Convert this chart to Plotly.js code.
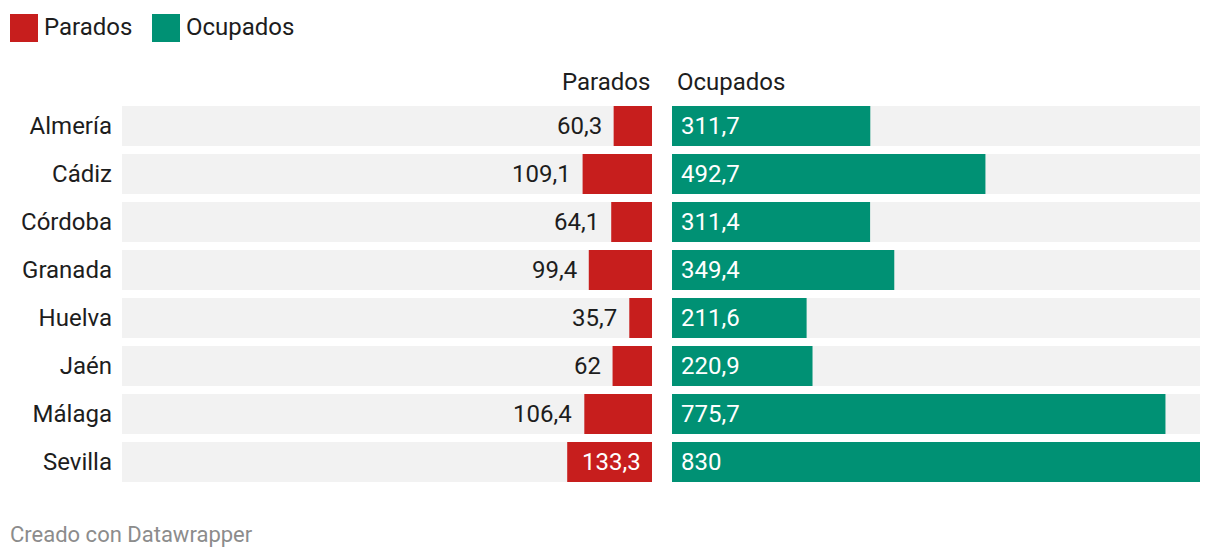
<!DOCTYPE html>
<html>
<head>
<meta charset="utf-8">
<script src="https://cdn.plot.ly/plotly-3.0.1.min.js"></script>
<style>
html,body{margin:0;padding:0;background:#fff;}
#chart{width:1220px;height:560px;}
</style>
</head>
<body>
<div id="chart"></div>
<script>
const categories = ["Almería", "Cádiz", "Córdoba", "Granada", "Huelva", "Jaén", "Málaga", "Sevilla"];
const parados = [60.3, 109.1, 64.1, 99.4, 35.7, 62, 106.4, 133.3];
const ocupados = [311.7, 492.7, 311.4, 349.4, 211.6, 220.9, 775.7, 830];
const seriesNames = ["Parados", "Ocupados"];
const colors = {parados: "#c71e1d", ocupados: "#009174", track: "#f2f2f2"};

const W = 1220, H = 560;
const leftDom = [122 / W, 652 / W];
const rightDom = [672 / W, 1200 / W];
const yDom = [74 / H, 458 / H];
const rightMax = Math.max(...ocupados);
const leftMax = rightMax * (leftDom[1] - leftDom[0]) / (rightDom[1] - rightDom[0]);

const fmt = v => String(v).replace('.', ',');
const FONT = "Roboto, 'Noto Sans', sans-serif";
const FS = 24;
const textColor = "#1d1d1d";

// approximate rendered label width (Roboto digits ~0.56em, comma ~0.2em)
const labelWidth = s => {
  let w = 0;
  for (const c of s) w += (c === ',' ? 0.2 : 0.56) * FS;
  return w;
};

const traces = [
  {type: 'bar', orientation: 'h', y: categories, x: categories.map(() => leftMax),
   xaxis: 'x', yaxis: 'y', marker: {color: colors.track}, hoverinfo: 'skip', showlegend: false},
  {type: 'bar', orientation: 'h', y: categories, x: categories.map(() => rightMax),
   xaxis: 'x2', yaxis: 'y', marker: {color: colors.track}, hoverinfo: 'skip', showlegend: false},
  {type: 'bar', orientation: 'h', name: seriesNames[0], y: categories, x: parados,
   xaxis: 'x', yaxis: 'y', marker: {color: colors.parados}, showlegend: false},
  {type: 'bar', orientation: 'h', name: seriesNames[1], y: categories, x: ocupados,
   xaxis: 'x2', yaxis: 'y', marker: {color: colors.ocupados}, showlegend: false}
];

const annotations = [];
// label goes inside the bar only when the bar is wide enough to hold it
const pxPerUnit = (leftDom[1] - leftDom[0]) * W / leftMax;
parados.forEach((v, i) => {
  const txt = fmt(v);
  const inside = v * pxPerUnit > labelWidth(txt) + 20;
  annotations.push({
    xref: 'x', yref: 'y', x: inside ? 0 : v, y: categories[i], text: txt,
    xanchor: 'right', yanchor: 'middle', showarrow: false,
    xshift: inside ? -9 : -10,
    font: {family: FONT, size: FS, color: inside ? '#ffffff' : textColor}
  });
});
ocupados.forEach((v, i) => {
  annotations.push({
    xref: 'x2', yref: 'y', x: 0, y: categories[i], text: fmt(v),
    xanchor: 'left', yanchor: 'middle', showarrow: false, xshift: 7,
    font: {family: FONT, size: FS, color: '#ffffff'}
  });
});
// column headers
annotations.push({xref: 'paper', yref: 'paper', x: leftDom[1], y: (H - 82) / H, text: seriesNames[0],
  xanchor: 'right', yanchor: 'middle', showarrow: false, font: {family: FONT, size: FS, color: textColor}});
annotations.push({xref: 'paper', yref: 'paper', x: rightDom[0] + 3 / W, y: (H - 82) / H, text: seriesNames[1],
  xanchor: 'left', yanchor: 'middle', showarrow: false, font: {family: FONT, size: FS, color: textColor}});
// legend
annotations.push({xref: 'paper', yref: 'paper', x: 42 / W, y: (H - 27) / H, text: seriesNames[0],
  xanchor: 'left', yanchor: 'middle', showarrow: false, font: {family: FONT, size: FS, color: textColor}});
annotations.push({xref: 'paper', yref: 'paper', x: 184 / W, y: (H - 27) / H, text: seriesNames[1],
  xanchor: 'left', yanchor: 'middle', showarrow: false, font: {family: FONT, size: FS, color: textColor}});
// footer
annotations.push({xref: 'paper', yref: 'paper', x: 8 / W, y: (H - 534) / H, text: "Creado con Datawrapper",
  xanchor: 'left', yanchor: 'middle', showarrow: false, font: {family: FONT, size: 22, color: '#8c8c8c'}});

const shapes = [
  {type: 'rect', xref: 'paper', yref: 'paper', x0: 10 / W, x1: 38 / W, y0: (H - 42) / H, y1: (H - 14) / H,
   fillcolor: colors.parados, line: {width: 0}},
  {type: 'rect', xref: 'paper', yref: 'paper', x0: 152 / W, x1: 180 / W, y0: (H - 42) / H, y1: (H - 14) / H,
   fillcolor: colors.ocupados, line: {width: 0}}
];

const layout = {
  width: W, height: H,
  margin: {l: 0, r: 0, t: 0, b: 0, pad: 0},
  paper_bgcolor: '#ffffff', plot_bgcolor: '#ffffff',
  barmode: 'overlay', bargap: 8 / 48,
  showlegend: false,
  font: {family: FONT, size: FS, color: textColor},
  xaxis: {domain: leftDom, range: [leftMax, 0], visible: false, fixedrange: true},
  xaxis2: {domain: rightDom, range: [0, rightMax], visible: false, fixedrange: true, anchor: 'y'},
  yaxis: {domain: yDom, type: 'category', categoryarray: categories, range: [categories.length - 0.5, -0.5],
    anchor: 'x', side: 'left', showgrid: false, zeroline: false, showline: false, ticks: '',
    ticklabelstandoff: 9, tickfont: {family: FONT, size: FS, color: textColor}, fixedrange: true},
  annotations: annotations,
  shapes: shapes
};

Plotly.newPlot('chart', traces, layout, {displayModeBar: false, staticPlot: true});
</script>
</body>
</html>
